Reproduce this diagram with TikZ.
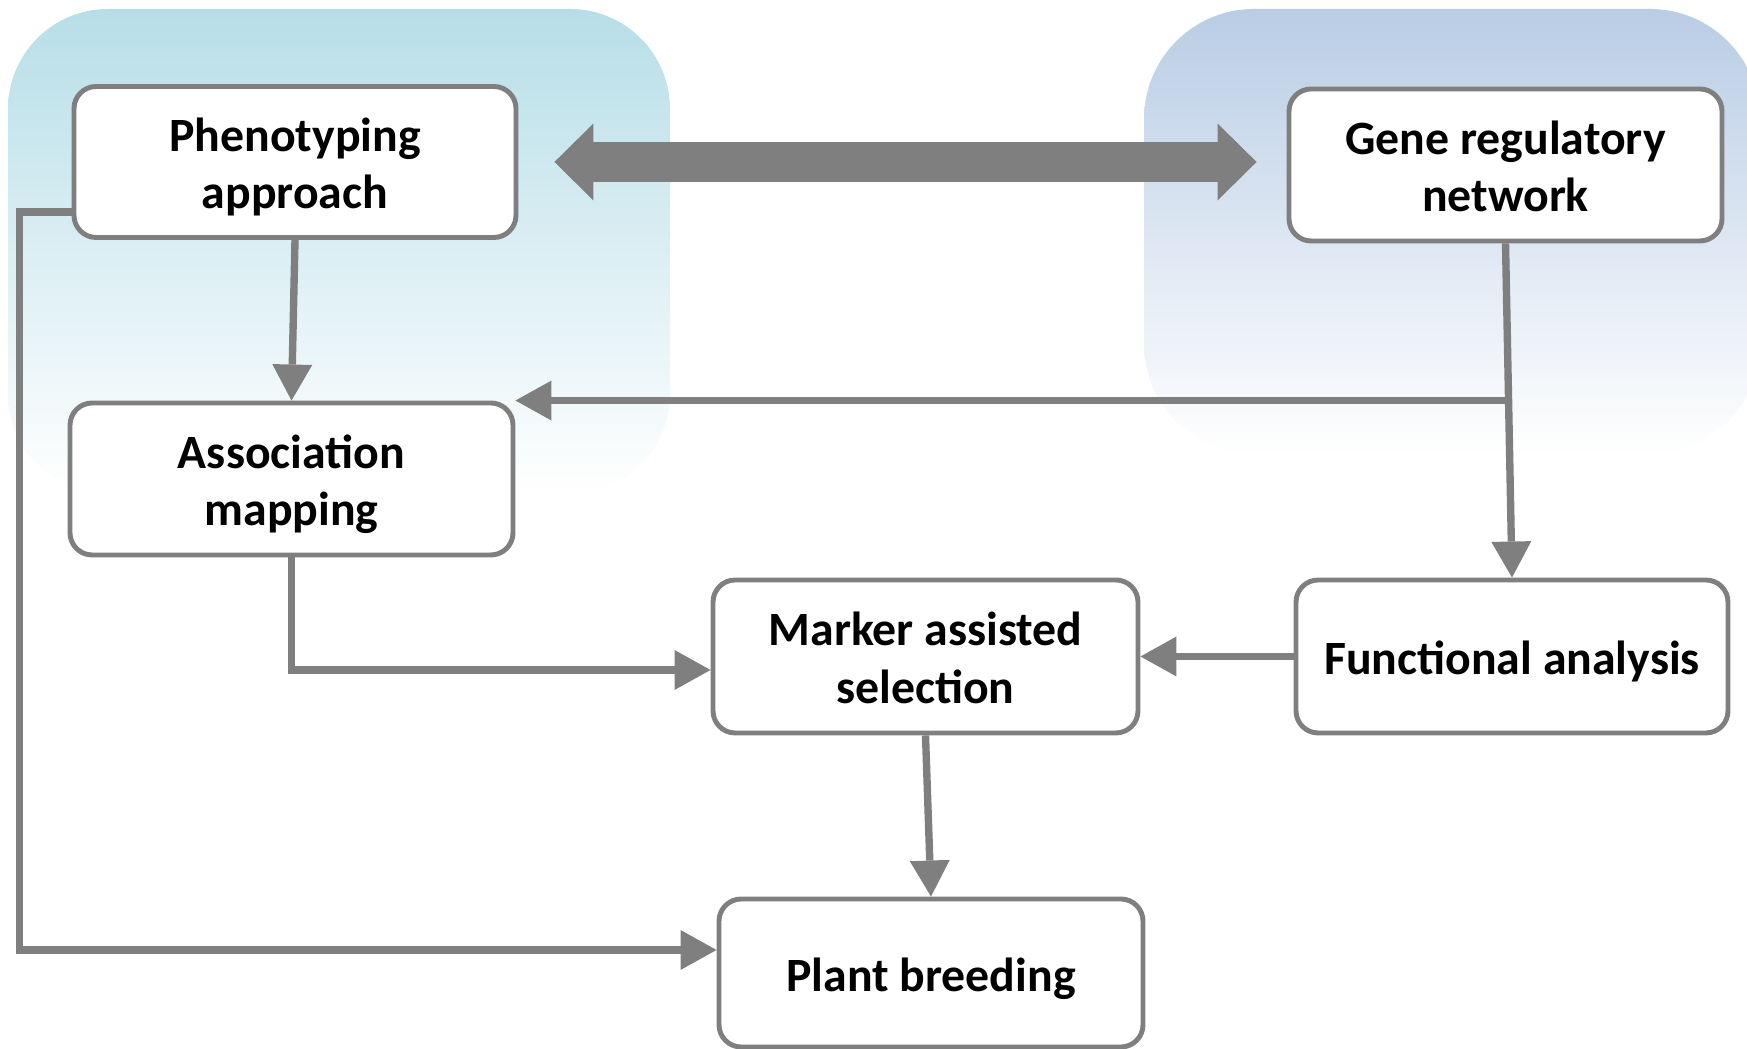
\documentclass[tikz,border=0pt]{standalone}
\usepackage{fontspec}
\setmainfont{Carlito}
\usetikzlibrary{positioning,arrows.meta,calc}
\definecolor{cLine}{HTML}{7F7F7F}
\definecolor{cAqua}{HTML}{B7DEE8}
\definecolor{cBlue}{HTML}{B9CDE5}
\newcommand{\boxtext}[1]{\raisebox{-1.9pt}[\height][\depth]{\begin{tabular}{@{}c@{}}#1\end{tabular}}}
\tikzset{
  box/.style={draw=cLine,line width=1.4pt,fill=white,rounded corners=6.3pt,inner sep=0pt,
    font=\fontsize{13.6}{16.3}\selectfont\bfseries},
  flow/.style={draw=cLine,line width=2.1pt,-{Triangle[length=3.6mm,width=4mm,line width=0pt]}},
  bigflow/.style={draw=cLine,line width=4mm,
    {Triangle[length=3.9mm,width=7.7mm,line width=0pt]}-{Triangle[length=3.9mm,width=7.7mm,line width=0pt]}}
}

\begin{document}
\begin{tikzpicture}
  \useasboundingbox (0,0) rectangle (17.47,10.49);
  \clip (0,0) rectangle (17.47,10.49);
  % shaded panels behind the two groups
  \shade[top color=cAqua,bottom color=white,rounded corners=1cm] (0.08,5.55) rectangle (6.70,10.40);
  \shade[top color=cBlue,bottom color=white,rounded corners=1.1cm] (11.44,5.95) rectangle (17.60,10.40);

  \node[box,minimum width=4.42cm,minimum height=1.51cm] (pheno) at (2.95,8.87) {\boxtext{Phenotyping\\approach}};
  \node[box,minimum width=4.43cm,minimum height=1.52cm] (assoc) at (2.915,5.70) {\boxtext{Association\\mapping}};
  \node[box,minimum width=4.33cm,minimum height=1.52cm] (gene) at (15.055,8.84) {\boxtext{Gene regulatory\\network}};
  \node[box,minimum width=4.25cm,minimum height=1.53cm] (mas) at (9.255,3.925) {\boxtext{Marker assisted\\selection}};
  \node[box,minimum width=4.32cm,minimum height=1.53cm] (func) at (15.12,3.925) {\boxtext{Functional analysis}};
  \node[box,minimum width=4.24cm,minimum height=1.48cm] (plant) at (9.31,0.76) {\boxtext{Plant breeding}};

  \draw[bigflow] ([xshift=3.6mm]pheno.east) -- ([xshift=-3mm]gene.west |- pheno.east);
  \draw[flow] (pheno.south) -- (assoc.north);
  \draw[flow] (gene.south) -- (func.north);
  \draw[flow] (gene.south |- assoc.north east) -- (assoc.north east);
  \draw[flow] (assoc.south) |- ([yshift=-1.35mm]mas.west);
  \draw[flow] (func.west) -- (mas.east);
  \draw[flow] (mas.south) -- (plant.north);
  \draw[flow] ([yshift=-5mm]pheno.west) -- ++(-0.52,0) |- ([yshift=2.3mm]plant.west);
\end{tikzpicture}
\end{document}
